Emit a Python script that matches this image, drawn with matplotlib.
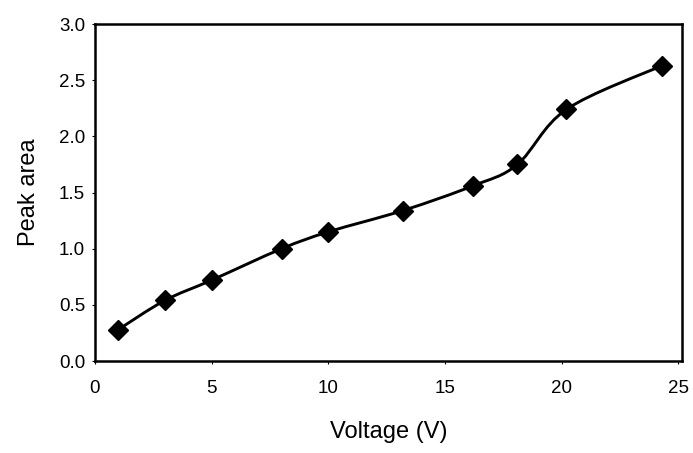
import numpy as np
import matplotlib
matplotlib.use('Agg')
import matplotlib.pyplot as plt
from matplotlib.path import Path
from matplotlib.patches import PathPatch

# Data
voltage = [1, 3, 5, 8, 10, 13.2, 16.2, 18.1, 20.2, 24.3]
peak_area = [0.28, 0.54, 0.72, 1.00, 1.15, 1.34, 1.56, 1.75, 2.24, 2.63]

x_ticks = [0, 5, 10, 15, 20, 25]
y_ticks = [0.0, 0.5, 1.0, 1.5, 2.0, 2.5, 3.0]

plt.rcParams['font.family'] = ['Liberation Sans', 'DejaVu Sans']

fig = plt.figure(figsize=(6.93, 4.53), dpi=100)
ax = fig.add_axes([0.137, 0.203, 0.847, 0.744])


def smooth_path(xs, ys):
    # Excel style smoothed line: Catmull-Rom segments as cubic Bezier curves
    pts = np.column_stack([xs, ys])
    ext = np.vstack([pts[0], pts, pts[-1]])
    verts = [pts[0]]
    codes = [Path.MOVETO]
    for i in range(1, len(ext) - 2):
        p0, p1, p2, p3 = ext[i - 1], ext[i], ext[i + 1], ext[i + 2]
        c1 = p1 + (p2 - p0) / 6.0
        c2 = p2 - (p3 - p1) / 6.0
        verts += [c1, c2, p2]
        codes += [Path.CURVE4] * 3
    return Path(verts, codes)


ax.add_patch(PathPatch(smooth_path(voltage, peak_area), facecolor='none',
                       edgecolor='black', linewidth=2.1, zorder=2))
ax.plot(voltage, peak_area, linestyle='none', marker='D', markersize=10,
        color='black', zorder=3)

ax.set_xlim(0, 25.15)
ax.set_ylim(0, 3.0)
ax.set_xticks(x_ticks)
ax.set_yticks(y_ticks)
ax.set_yticklabels(['%.1f' % v for v in y_ticks])

for side in ['left', 'right', 'top', 'bottom']:
    ax.spines[side].set_linewidth(1.8)
    ax.spines[side].set_color('black')

ax.tick_params(axis='x', length=2, width=0.8, pad=12, labelsize=13.5)
ax.tick_params(axis='y', length=2, width=0.8, pad=5, labelsize=13.5)

ax.set_xlabel('Voltage (V)', fontsize=17, labelpad=17)
ax.set_ylabel('Peak area', fontsize=17, labelpad=14)

plt.savefig('out.png', dpi=100)
